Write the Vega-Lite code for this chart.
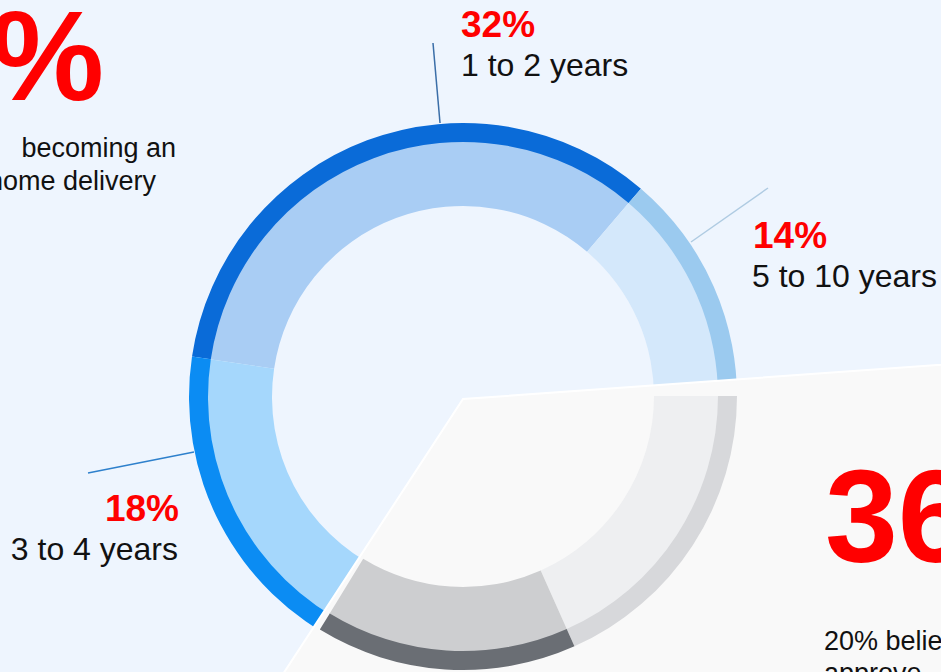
{
  "$schema": "https://vega.github.io/schema/vega-lite/v6.json",
  "width": 941,
  "height": 672,
  "padding": 0,
  "autosize": {"type": "none"},
  "background": "#EEF5FE",
  "config": {"view": {"stroke": null}},
  "datasets": {
    "bands": [
      {"seg": "1 to 2 years", "ring": "inner", "group": "blue", "band": "1-2 inner", "t0": 278.5, "t1": 400.5},
      {"seg": "5 to 10 years", "ring": "inner", "group": "blue", "band": "5-10 inner", "t0": 40.5, "t1": 92},
      {"seg": "3 to 4 years", "ring": "inner", "group": "blue", "band": "3-4 inner", "t0": 206, "t1": 278.5},
      {"seg": "1 to 2 years", "ring": "outer", "group": "blue", "band": "1-2 outer", "t0": 278.5, "t1": 400.5},
      {"seg": "5 to 10 years", "ring": "outer", "group": "blue", "band": "5-10 outer", "t0": 40.5, "t1": 92},
      {"seg": "3 to 4 years", "ring": "outer", "group": "blue", "band": "3-4 outer", "t0": 206, "t1": 278.5},
      {"seg": "20%", "ring": "inner", "group": "gray", "band": "20 inner", "t0": 90, "t1": 156},
      {"seg": "16%", "ring": "inner", "group": "gray", "band": "16 inner", "t0": 156, "t1": 211.5},
      {"seg": "20%", "ring": "outer", "group": "gray", "band": "20 outer", "t0": 90, "t1": 156},
      {"seg": "16%", "ring": "outer", "group": "gray", "band": "16 outer", "t0": 156, "t1": 211.5}
    ],
    "panel": [{"t0": 85.9, "t1": 213.2}],
    "leaders": [
      {"seg": "1 to 2 years", "x": 440, "y": 123, "x2": 433, "y2": 43},
      {"seg": "5 to 10 years", "x": 691, "y": 242, "x2": 768, "y2": 188},
      {"seg": "3 to 4 years", "x": 194, "y": 452, "x2": 88, "y2": 473}
    ],
    "labels": [
      {"kind": "bigL", "text": "%", "x": 104, "y": 100},
      {"kind": "bigR", "text": "36%", "x": 825, "y": 562},
      {"kind": "pctL", "text": "32%", "x": 461, "y": 37},
      {"kind": "pctL", "text": "14%", "x": 753, "y": 248},
      {"kind": "pctR", "text": "18%", "x": 179, "y": 521},
      {"kind": "catL", "text": "1 to 2 years", "x": 461, "y": 76},
      {"kind": "catL", "text": "5 to 10 years", "x": 752, "y": 287},
      {"kind": "catR", "text": "3 to 4 years", "x": 178, "y": 560},
      {"kind": "bodyR", "text": "becoming an", "x": 176, "y": 157},
      {"kind": "bodyR", "text": "home delivery", "x": 156, "y": 190},
      {"kind": "bodyL", "text": "20% believe", "x": 824, "y": 650},
      {"kind": "bodyL", "text": "approve", "x": 824, "y": 682}
    ]
  },
  "layer": [
    {
      "data": {"name": "bands"},
      "transform": [{"filter": "datum.group == 'blue' && datum.ring == 'inner'"}],
      "mark": {"type": "arc", "radius": 256, "radius2": 191},
      "encoding": {
        "x": {"datum": 463, "type": "quantitative", "scale": {"domain": [0, 941], "nice": false, "zero": false}, "axis": null},
        "y": {"datum": 397, "type": "quantitative", "scale": {"domain": [0, 672], "reverse": true, "nice": false, "zero": false}, "axis": null},
        "theta": {"field": "t0", "type": "quantitative", "stack": null, "scale": {"domain": [0, 360], "range": [0, 6.283185307179586]}},
        "theta2": {"field": "t1"},
        "color": {
          "field": "band", "type": "nominal", "legend": null,
          "scale": {
            "domain": ["1-2 inner", "5-10 inner", "3-4 inner", "1-2 outer", "5-10 outer", "3-4 outer", "20 inner", "16 inner", "20 outer", "16 outer"],
            "range": ["#A9CDF4", "#D4E8FB", "#A5D7FC", "#0A6BD8", "#9BCAEF", "#0B8CF3", "#EEEFF1", "#CDCED0", "#D7D8DB", "#6A6E74"]
          }
        }
      }
    },
    {
      "data": {"name": "bands"},
      "transform": [{"filter": "datum.group == 'blue' && datum.ring == 'outer'"}],
      "mark": {"type": "arc", "radius": 274, "radius2": 255},
      "encoding": {
        "x": {"datum": 463, "type": "quantitative", "axis": null},
        "y": {"datum": 397, "type": "quantitative", "axis": null},
        "theta": {"field": "t0", "type": "quantitative", "stack": null},
        "theta2": {"field": "t1"},
        "color": {"field": "band", "type": "nominal", "legend": null}
      }
    },
    {
      "data": {"name": "panel"},
      "mark": {"type": "arc", "radius": 900, "radius2": 0, "fill": "#F9F9F9", "stroke": "#FFFFFF", "strokeWidth": 2, "cornerRadius": 8},
      "encoding": {
        "x": {"datum": 463, "type": "quantitative", "axis": null},
        "y": {"datum": 399, "type": "quantitative", "axis": null},
        "theta": {"field": "t0", "type": "quantitative", "stack": null},
        "theta2": {"field": "t1"}
      }
    },
    {
      "data": {"name": "bands"},
      "transform": [{"filter": "datum.group == 'gray' && datum.ring == 'inner'"}],
      "mark": {"type": "arc", "radius": 256, "radius2": 191},
      "encoding": {
        "x": {"datum": 463, "type": "quantitative", "axis": null},
        "y": {"datum": 396, "type": "quantitative", "axis": null},
        "theta": {"field": "t0", "type": "quantitative", "stack": null},
        "theta2": {"field": "t1"},
        "color": {"field": "band", "type": "nominal", "legend": null}
      }
    },
    {
      "data": {"name": "bands"},
      "transform": [{"filter": "datum.group == 'gray' && datum.ring == 'outer'"}],
      "mark": {"type": "arc", "radius": 274, "radius2": 255},
      "encoding": {
        "x": {"datum": 463, "type": "quantitative", "axis": null},
        "y": {"datum": 396, "type": "quantitative", "axis": null},
        "theta": {"field": "t0", "type": "quantitative", "stack": null},
        "theta2": {"field": "t1"},
        "color": {"field": "band", "type": "nominal", "legend": null}
      }
    },
    {
      "data": {"name": "leaders"},
      "mark": {"type": "rule", "strokeWidth": 1.5},
      "encoding": {
        "x": {"field": "x", "type": "quantitative", "axis": null},
        "y": {"field": "y", "type": "quantitative", "axis": null},
        "x2": {"field": "x2"},
        "y2": {"field": "y2"},
        "stroke": {
          "field": "seg", "type": "nominal", "legend": null,
          "scale": {"domain": ["1 to 2 years", "5 to 10 years", "3 to 4 years"], "range": ["#3A6EA8", "#AFCBE2", "#2E80CC"]}
        }
      }
    },
    {
      "data": {"name": "labels"},
      "transform": [{"filter": "datum.kind == 'bigL'"}],
      "mark": {"type": "text", "align": "right", "baseline": "alphabetic", "font": "Liberation Sans", "fontWeight": "bold", "fontSize": 128, "color": "#FF0000"},
      "encoding": {
        "x": {"field": "x", "type": "quantitative", "axis": null},
        "y": {"field": "y", "type": "quantitative", "axis": null},
        "text": {"field": "text"}
      }
    },
    {
      "data": {"name": "labels"},
      "transform": [{"filter": "datum.kind == 'bigR'"}],
      "mark": {"type": "text", "align": "left", "baseline": "alphabetic", "font": "Liberation Sans", "fontWeight": "bold", "fontSize": 131, "color": "#FF0000"},
      "encoding": {
        "x": {"field": "x", "type": "quantitative", "axis": null},
        "y": {"field": "y", "type": "quantitative", "axis": null},
        "text": {"field": "text"}
      }
    },
    {
      "data": {"name": "labels"},
      "transform": [{"filter": "datum.kind == 'pctL'"}],
      "mark": {"type": "text", "align": "left", "baseline": "alphabetic", "font": "Liberation Sans", "fontWeight": "bold", "fontSize": 37, "color": "#FF0000"},
      "encoding": {
        "x": {"field": "x", "type": "quantitative", "axis": null},
        "y": {"field": "y", "type": "quantitative", "axis": null},
        "text": {"field": "text"}
      }
    },
    {
      "data": {"name": "labels"},
      "transform": [{"filter": "datum.kind == 'pctR'"}],
      "mark": {"type": "text", "align": "right", "baseline": "alphabetic", "font": "Liberation Sans", "fontWeight": "bold", "fontSize": 37, "color": "#FF0000"},
      "encoding": {
        "x": {"field": "x", "type": "quantitative", "axis": null},
        "y": {"field": "y", "type": "quantitative", "axis": null},
        "text": {"field": "text"}
      }
    },
    {
      "data": {"name": "labels"},
      "transform": [{"filter": "datum.kind == 'catL'"}],
      "mark": {"type": "text", "align": "left", "baseline": "alphabetic", "font": "Liberation Sans", "fontSize": 32, "color": "#111111"},
      "encoding": {
        "x": {"field": "x", "type": "quantitative", "axis": null},
        "y": {"field": "y", "type": "quantitative", "axis": null},
        "text": {"field": "text"}
      }
    },
    {
      "data": {"name": "labels"},
      "transform": [{"filter": "datum.kind == 'catR'"}],
      "mark": {"type": "text", "align": "right", "baseline": "alphabetic", "font": "Liberation Sans", "fontSize": 32, "color": "#111111"},
      "encoding": {
        "x": {"field": "x", "type": "quantitative", "axis": null},
        "y": {"field": "y", "type": "quantitative", "axis": null},
        "text": {"field": "text"}
      }
    },
    {
      "data": {"name": "labels"},
      "transform": [{"filter": "datum.kind == 'bodyR'"}],
      "mark": {"type": "text", "align": "right", "baseline": "alphabetic", "font": "Liberation Sans", "fontSize": 27, "color": "#111111"},
      "encoding": {
        "x": {"field": "x", "type": "quantitative", "axis": null},
        "y": {"field": "y", "type": "quantitative", "axis": null},
        "text": {"field": "text"}
      }
    },
    {
      "data": {"name": "labels"},
      "transform": [{"filter": "datum.kind == 'bodyL'"}],
      "mark": {"type": "text", "align": "left", "baseline": "alphabetic", "font": "Liberation Sans", "fontSize": 27, "color": "#111111"},
      "encoding": {
        "x": {"field": "x", "type": "quantitative", "axis": null},
        "y": {"field": "y", "type": "quantitative", "axis": null},
        "text": {"field": "text"}
      }
    }
  ]
}
